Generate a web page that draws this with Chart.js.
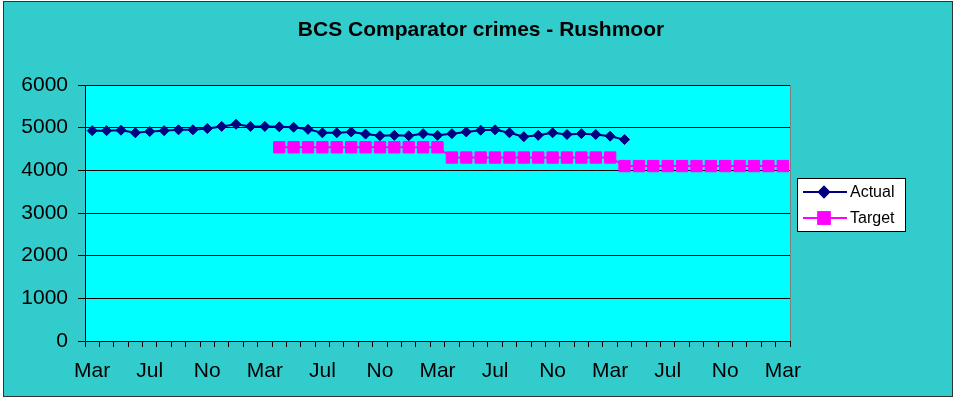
<!DOCTYPE html>
<html>
<head>
<meta charset="utf-8">
<script src="https://cdn.jsdelivr.net/npm/chart.js@4"></script>
<style>
  html, body { margin: 0; padding: 0; background: #fff; }
  #wrap { width: 956px; height: 399px; }
</style>
</head>
<body>
<div id="wrap"><canvas id="myChart" width="956" height="399"></canvas></div>
<script>
// months Mar .. Mar over four years
const monthNames = ["Mar", "Apr", "May", "Jun", "Jul", "Aug", "Sep", "Oct", "Nov", "Dec", "Jan", "Feb"];
const categories = [];
for (let i = 0; i < 49; i++) categories.push(monthNames[i % 12]);

const tickLabels = ["Mar", "Jul", "No", "Mar", "Jul", "No", "Mar", "Jul", "No", "Mar", "Jul", "No", "Mar"];

const actual = [
  4930, 4930, 4940, 4880, 4910, 4930, 4950, 4950, 4980, 5030, 5080, 5030,
  5030, 5020, 5010, 4960, 4880, 4880, 4900, 4850, 4810, 4820, 4810, 4860,
  4820, 4860, 4900, 4940, 4950, 4880, 4790, 4820, 4880, 4840, 4860, 4840,
  4800, 4720
];

const target = [
  null, null, null, null, null, null, null, null, null, null, null, null, null,
  4540, 4540, 4540, 4540, 4540, 4540, 4540, 4540, 4540, 4540, 4540, 4540,
  4300, 4300, 4300, 4300, 4300, 4300, 4300, 4300, 4300, 4300, 4300, 4300,
  4100, 4100, 4100, 4100, 4100, 4100, 4100, 4100, 4100, 4100, 4100, 4100
];

const chartTitle = "BCS Comparator crimes - Rushmoor";
const FONT = "'Liberation Sans', Arial, sans-serif";

// page background, outer frame, title and plot area fill
const backdrop = {
  id: "backdrop",
  beforeDraw(chart) {
    const ctx = chart.ctx;
    const a = chart.chartArea;
    ctx.save();
    ctx.fillStyle = "#fff";
    ctx.fillRect(0, 0, chart.width, chart.height);
    ctx.fillStyle = "#33CCCC";
    ctx.fillRect(3, 1, 950, 396);
    ctx.strokeStyle = "#333";
    ctx.lineWidth = 1;
    ctx.strokeRect(3.5, 1.5, 949, 395);

    ctx.fillStyle = "#000";
    ctx.font = "bold 21px " + FONT;
    ctx.textAlign = "center";
    ctx.textBaseline = "middle";
    ctx.fillText(chartTitle, 481, 30);

    ctx.fillStyle = "#00FFFF";
    ctx.fillRect(a.left, a.top, a.right - a.left, a.bottom - a.top);
    ctx.strokeStyle = "#808080";
    ctx.strokeRect(a.left + 0.5, a.top + 0.5, a.right - a.left, a.bottom - a.top);
    ctx.restore();
  }
};

// boxed legend to the right of the plot
const boxLegend = {
  id: "boxLegend",
  afterDraw(chart) {
    const ctx = chart.ctx;
    const a = chart.chartArea;
    const x = a.right + 7, y = 178, w = 108, h = 53;
    ctx.save();
    ctx.fillStyle = "#fff";
    ctx.fillRect(x, y, w, h);
    ctx.strokeStyle = "#000";
    ctx.lineWidth = 1;
    ctx.strokeRect(x + 0.5, y + 0.5, w, h);
    chart.data.datasets.forEach((ds, i) => {
      const ly = y + 14 + i * 26;
      ctx.strokeStyle = ds.borderColor;
      ctx.lineWidth = 2;
      ctx.beginPath();
      ctx.moveTo(x + 6, ly);
      ctx.lineTo(x + 50, ly);
      ctx.stroke();
      Chart.helpers.drawPoint(ctx, {
        pointStyle: ds.pointStyle,
        radius: ds.pointRadius,
        borderWidth: 1
      }, x + 27, ly);
      ctx.fillStyle = ds.pointBackgroundColor;
      ctx.strokeStyle = ds.pointBorderColor;
      ctx.fill();
      ctx.stroke();
      ctx.fillStyle = "#000";
      ctx.font = "16px " + FONT;
      ctx.textBaseline = "middle";
      ctx.fillText(ds.label, x + 53, ly + 1);
    });
    ctx.restore();
  }
};

new Chart(document.getElementById("myChart"), {
  type: "line",
  data: {
    labels: categories,
    datasets: [
      {
        label: "Actual",
        data: actual,
        borderColor: "#000080",
        borderWidth: 2,
        pointStyle: "rectRot",
        pointRadius: 5,
        pointBackgroundColor: "#000080",
        pointBorderColor: "#000080",
        pointBorderWidth: 1
      },
      {
        label: "Target",
        data: target,
        borderColor: "#FF00FF",
        borderWidth: 2,
        pointStyle: "rect",
        pointRadius: 8,
        pointBackgroundColor: "#FF00FF",
        pointBorderColor: "#FF00FF",
        pointBorderWidth: 1
      }
    ]
  },
  options: {
    responsive: false,
    animation: false,
    layout: { padding: { left: 0, right: 166, top: 85, bottom: 0 } },
    plugins: {
      legend: { display: false },
      tooltip: { enabled: false },
      title: { display: false }
    },
    scales: {
      x: {
        offset: true,
        afterFit(scale) { scale.height = 58; },
        grid: {
          offset: true,
          drawOnChartArea: false,
          drawTicks: true,
          tickLength: 6,
          color: "#000"
        },
        border: { color: "#000", width: 1 },
        ticks: {
          autoSkip: false,
          maxRotation: 0,
          padding: 12,
          color: "#000",
          font: { family: FONT, size: 21 },
          callback: (v, i) => (i % 4 === 0 ? tickLabels[i / 4] : "")
        }
      },
      y: {
        min: 0,
        max: 6000,
        afterFit(scale) { scale.width = 85; },
        grid: { color: "#000", tickLength: 7 },
        border: { color: "#000", width: 1 },
        ticks: {
          stepSize: 1000,
          padding: 10,
          color: "#000",
          font: { family: FONT, size: 21 },
          callback: (v) => String(v)
        }
      }
    }
  },
  plugins: [backdrop, boxLegend]
});
</script>
</body>
</html>
